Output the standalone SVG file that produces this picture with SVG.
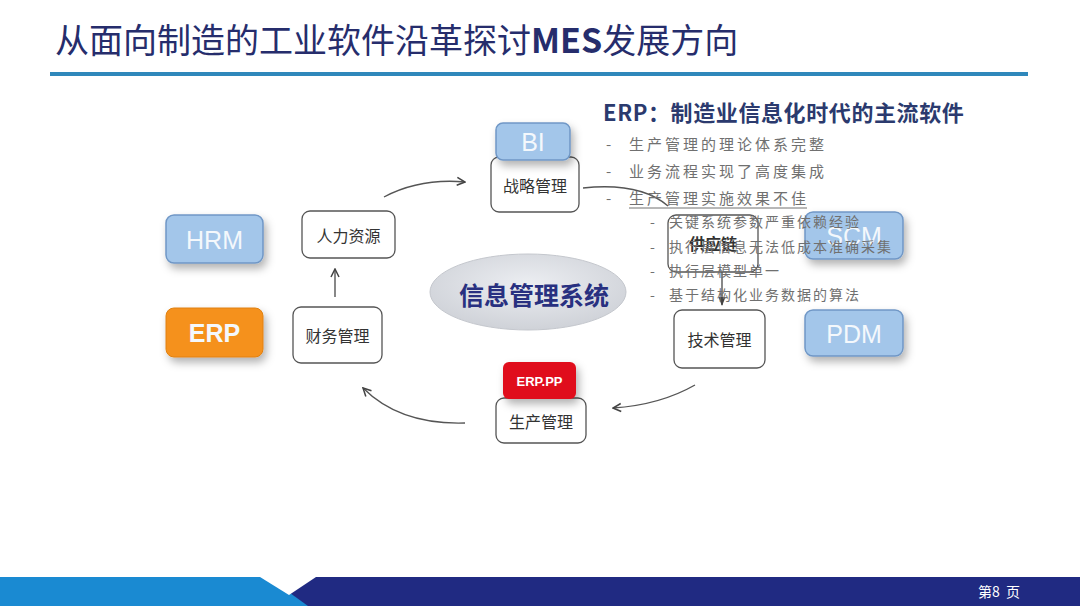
<svg xmlns="http://www.w3.org/2000/svg" width="1080" height="608" viewBox="0 0 1080 608">
<defs>
<filter id="sh" x="-30%" y="-30%" width="170%" height="180%">
<feDropShadow dx="3" dy="5" stdDeviation="4" flood-color="#000" flood-opacity="0.3"/>
</filter>
<radialGradient id="ell" cx="50%" cy="40%" r="60%">
<stop offset="0" stop-color="#eceef2"/>
<stop offset="1" stop-color="#cfd2d8"/>
</radialGradient>
<marker id="ah" viewBox="0 0 10 10" refX="9" refY="5" markerWidth="10" markerHeight="10" markerUnits="userSpaceOnUse" orient="auto">
<path d="M1,1 L9,5 L1,9" fill="none" stroke="#444" stroke-width="1.5"/>
</marker>
<marker id="ahf" viewBox="0 0 10 10" refX="9" refY="5" markerWidth="9" markerHeight="9" markerUnits="userSpaceOnUse" orient="auto">
<path d="M0,1 L10,5 L0,9 Z" fill="#444"/>
</marker>
</defs>
<style>
.t{font-family:"Noto Sans CJK SC","Liberation Sans",sans-serif}
.wbox{fill:#fff;stroke:#555;stroke-width:1.3}
.bbox{fill:#a3c6ea;stroke:#7097c6;stroke-width:1.5}
.lbl{font-size:16px;fill:#333;text-anchor:middle;dominant-baseline:central}
.blbl{font-family:"Liberation Sans",Arial,sans-serif;font-size:25px;fill:#f4f8fc;text-anchor:middle;dominant-baseline:central}
.conn{fill:none;stroke:#555;stroke-width:1.4}
.li{font-size:15px;fill:#707070;letter-spacing:3px}
.sli{font-size:14px;fill:#707070;letter-spacing:2px}
</style>

<!-- header -->
<text class="t" x="55" y="53" font-size="34" fill="#262d6c">从面向制造的工业软件沿革探讨<tspan font-weight="bold">MES</tspan>发展方向</text>
<rect x="50" y="72" width="978" height="4" fill="#2f88bb"/>

<!-- footer -->
<rect x="0" y="577" width="320" height="29" fill="#1a8ad2"/>
<polygon points="315,577 1080,577 1080,606 308,606 290,593" fill="#202a82"/>
<polygon points="260,577 316,577 289,595" fill="#fff"/>
<text class="t" x="978" y="597" font-size="14" fill="#fff">第8</text>
<text class="t" x="1006" y="597" font-size="14" fill="#fff">页</text>

<!-- connectors -->
<g id="connectors">
<path class="conn" d="M384,197 Q420,178 465,182" marker-end="url(#ah)"/>
<path class="conn" d="M335,297 L335,269" marker-end="url(#ah)"/>
<path class="conn" d="M583,188 Q640,182 668,206"/>
<path class="conn" d="M722,272 L722,305" marker-end="url(#ahf)"/>
<path class="conn" d="M695,385 Q660,405 613,408" marker-end="url(#ah)"/>
<path class="conn" d="M465,423 Q400,425 363,388" marker-end="url(#ah)"/>
</g>

<!-- nodes -->
<g id="hrm"><rect class="bbox" x="166" y="215" width="97" height="48" rx="8" filter="url(#sh)"/><text class="blbl" x="214.5" y="240">HRM</text></g>
<g id="erp"><rect x="166" y="308" width="97" height="49" rx="8" fill="#f5911e" stroke="#e08010" stroke-width="1" filter="url(#sh)"/><text class="blbl" x="214.5" y="333" font-weight="bold" fill="#fff">ERP</text></g>
<g id="renli"><rect class="wbox" x="302" y="211" width="93" height="47" rx="8"/><text class="t lbl" x="348.5" y="235">人力资源</text></g>
<g id="caiwu"><rect class="wbox" x="293" y="307" width="89" height="56" rx="8"/><text class="t lbl" x="337.5" y="335">财务管理</text></g>
<g id="zhanlue"><rect class="wbox" x="491" y="157" width="88" height="55" rx="8"/><text class="t lbl" x="535" y="185">战略管理</text></g>
<g id="bi"><rect class="bbox" x="496" y="123" width="74" height="37" rx="7" filter="url(#sh)"/><text class="blbl" x="533" y="142" font-size="23">BI</text></g>
<g id="xinxi"><ellipse cx="528" cy="292" rx="98" ry="38" fill="url(#ell)" stroke="#c4c7cd" stroke-width="1"/><text class="t" x="534" y="294" font-size="25" font-weight="bold" fill="#283080" text-anchor="middle" dominant-baseline="central">信息管理系统</text></g>
<g id="shengchan"><rect class="wbox" x="496" y="398" width="90" height="45" rx="8"/><text class="t lbl" x="541" y="421">生产管理</text></g>
<g id="erppp"><rect x="503" y="362" width="73" height="37" rx="6" fill="#e0101b" filter="url(#sh)"/><text x="539.5" y="381" font-family="Liberation Sans,Arial,sans-serif" font-size="13" font-weight="bold" fill="#fff" text-anchor="middle" dominant-baseline="central">ERP.PP</text></g>
<g id="jishu"><rect class="wbox" x="674" y="310" width="91" height="58" rx="8"/><text class="t lbl" x="719.5" y="339" font-size="17">技术管理</text></g>
<g id="pdm"><rect class="bbox" x="805" y="310" width="98" height="46" rx="8" filter="url(#sh)"/><text class="blbl" x="854" y="334">PDM</text></g>
<g id="scm"><rect class="bbox" x="805" y="212" width="98" height="47" rx="8" filter="url(#sh)"/><text class="blbl" x="854" y="236">SCM</text></g>
<g id="gongying"><rect class="wbox" x="668" y="215" width="90" height="57" rx="8" fill="none"/><text class="t lbl" x="713" y="243" font-weight="bold" fill="#444">供应链</text></g>

<!-- text block -->
<g id="textblock" class="t">
<text x="603" y="121" font-size="22" font-weight="bold" fill="#2b3a6e" letter-spacing="0.6">ERP：制造业信息化时代的主流软件</text>
<text class="li" x="606" y="150">-</text><text class="li" x="629" y="150">生产管理的理论体系完整</text>
<text class="li" x="606" y="177">-</text><text class="li" x="629" y="177">业务流程实现了高度集成</text>
<text class="li" x="606" y="204">-</text><text class="li" x="629" y="204">生产管理实施效果不佳</text>
<line x1="629" y1="208" x2="807" y2="208" stroke="#707070" stroke-width="1"/>
<text class="sli" x="650" y="227">-</text><text class="sli" x="669" y="227">关键系统参数严重依赖经验</text>
<text class="sli" x="650" y="252">-</text><text class="sli" x="669" y="252">执行层信息无法低成本准确采集</text>
<text class="sli" x="650" y="276">-</text><text class="sli" x="669" y="276">执行层模型单一</text>
<text class="sli" x="650" y="300">-</text><text class="sli" x="669" y="300">基于结构化业务数据的算法</text>
</g>
</svg>
